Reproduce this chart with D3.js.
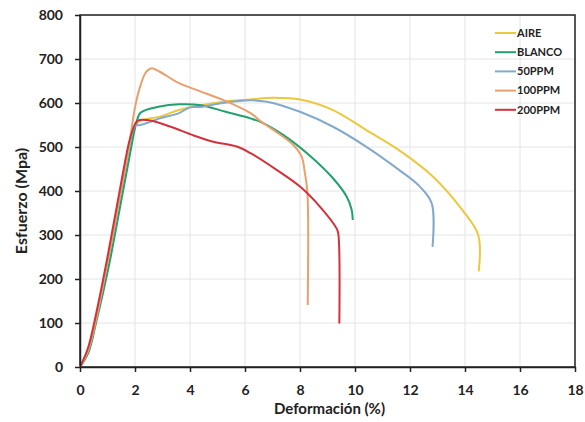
<!DOCTYPE html>
<html>
<head>
<meta charset="utf-8">
<script src="https://cdn.jsdelivr.net/npm/d3@7"></script>
<style>
  body { margin: 0; background: #fff; }
  svg { font-family: Lato, "Open Sans", sans-serif; }
</style>
</head>
<body>
<svg id="chart" width="585" height="422"></svg>
<script>
// curves: strain (%) and stress (MPa)
const seriesNames = ['AIRE', 'BLANCO', '50PPM', '100PPM', '200PPM'];

const aireX = [0, 0.3, 0.6, 1.0, 1.5, 1.8, 2.0, 2.2, 2.9, 3.6, 4.4, 5.2, 6.2, 7.0, 8.0, 9.2, 10.4, 11.6, 12.85, 13.9, 14.48, 14.5];
const aireY = [0, 35, 110, 235, 400, 500, 548, 560, 569, 584, 595, 603, 608, 612, 608, 584, 539, 493, 432, 357, 300, 217];

const blancoX = [0, 0.3, 0.6, 1.05, 1.55, 1.85, 2.05, 2.2, 2.9, 3.6, 4.4, 5.3, 6.2, 6.6, 7.4, 8.4, 9.2, 9.7, 9.88, 9.92];
const blancoY = [0, 32, 105, 230, 395, 495, 555, 578, 592, 597, 595, 580, 565, 556, 527, 478, 429, 387, 357, 334];

const ppm50X = [0, 0.3, 0.6, 1.0, 1.5, 1.8, 2.0, 2.2, 2.5, 2.9, 3.6, 4.0, 4.4, 5.2, 6.2, 6.8, 8.0, 9.2, 10.4, 11.6, 12.36, 12.79, 12.82];
const ppm50Y = [0, 38, 115, 240, 405, 505, 548, 550, 556, 565, 577, 590, 591, 600, 606, 603, 580, 546, 501, 448, 410, 372, 273];

const ppm100X = [0, 0.3, 0.6, 1.0, 1.5, 1.8, 2.0, 2.2, 2.4, 2.6, 2.9, 3.6, 4.4, 5.2, 6.2, 6.6, 7.0, 7.75, 8.06, 8.18, 8.27, 8.28];
const ppm100Y = [0, 38, 112, 238, 405, 510, 590, 640, 670, 679, 671, 645, 626, 607, 577, 557, 540, 505, 478, 440, 395, 141];

const ppm200X = [0, 0.3, 0.6, 1.0, 1.5, 1.8, 2.0, 2.1, 2.5, 3.3, 4.1, 4.85, 5.7, 6.2, 7.15, 8.0, 8.73, 9.33, 9.39, 9.43];
const ppm200Y = [0, 45, 125, 250, 420, 515, 552, 560, 561, 546, 527, 512, 501, 486, 448, 410, 364, 315, 304, 99];

const xTicks = [0, 2, 4, 6, 8, 10, 12, 14, 16, 18];
const yTicks = [0, 100, 200, 300, 400, 500, 600, 700, 800];

const colors = ['#ecc83c', '#22a070', '#84aacb', '#e9a06c', '#d2323c'];

const series = [
  { name: seriesNames[0], x: aireX, y: aireY },
  { name: seriesNames[1], x: blancoX, y: blancoY },
  { name: seriesNames[2], x: ppm50X, y: ppm50Y },
  { name: seriesNames[3], x: ppm100X, y: ppm100Y },
  { name: seriesNames[4], x: ppm200X, y: ppm200Y },
];

const svg = d3.select('#chart');
const margin = { top: 15, right: 10, bottom: 55, left: 80 };
const width = 585 - margin.left - margin.right;
const height = 422 - margin.top - margin.bottom;

const x = d3.scaleLinear().domain([0, 18]).range([0, width]);
const y = d3.scaleLinear().domain([0, 800]).range([height, 0]);

const g = svg.append('g')
  .attr('transform', `translate(${margin.left},${margin.top})`);

// grid
g.append('g')
  .selectAll('line')
  .data(xTicks.slice(1))
  .join('line')
  .attr('x1', d => x(d)).attr('x2', d => x(d))
  .attr('y1', 0).attr('y2', height)
  .attr('stroke', '#e4e4e4');

g.append('g')
  .selectAll('line')
  .data(yTicks.slice(1))
  .join('line')
  .attr('x1', 0).attr('x2', width)
  .attr('y1', d => y(d)).attr('y2', d => y(d))
  .attr('stroke', '#e4e4e4');

// frame
g.append('rect')
  .attr('width', width).attr('height', height)
  .attr('fill', 'none')
  .attr('stroke', '#222')
  .attr('stroke-width', 1.5);

// curves
const line = d3.line()
  .x(d => x(d[0]))
  .y(d => y(d[1]))
  .curve(d3.curveCatmullRom.alpha(0.5));

series.forEach((s, i) => {
  g.append('path')
    .datum(s.x.map((v, j) => [v, s.y[j]]))
    .attr('fill', 'none')
    .attr('stroke', colors[i])
    .attr('stroke-width', 2)
    .attr('d', line);
});

// axes
const xAxis = g.append('g')
  .attr('transform', `translate(0,${height})`)
  .call(d3.axisBottom(x).tickValues(xTicks).tickSize(5).tickPadding(13).tickSizeOuter(0));

const yAxis = g.append('g')
  .call(d3.axisLeft(y).tickValues(yTicks).tickSize(5).tickPadding(12).tickSizeOuter(0));

[xAxis, yAxis].forEach(a => {
  a.select('.domain').attr('stroke', '#222').attr('stroke-width', 1.5);
  a.selectAll('.tick line').attr('stroke', '#222').attr('stroke-width', 1.5);
  a.selectAll('.tick text')
    .attr('fill', '#222')
    .style('font-size', '14px')
    .style('font-weight', 'bold')
    .style('font-family', 'Lato, sans-serif');
});

// axis titles
svg.append('text')
  .attr('x', margin.left + width / 2 + 2)
  .attr('y', 414)
  .attr('text-anchor', 'middle')
  .attr('fill', '#222')
  .style('font-size', '15px')
  .style('font-weight', 'bold')
  .text('Deformación (%)');

svg.append('text')
  .attr('transform', 'translate(27,201) rotate(-90)')
  .attr('text-anchor', 'middle')
  .attr('fill', '#222')
  .style('font-size', '16px')
  .style('font-weight', 'bold')
  .text('Esfuerzo (Mpa)');

// legend
const legend = svg.append('g').attr('transform', 'translate(495,33)');
series.forEach((s, i) => {
  const row = legend.append('g').attr('transform', `translate(0,${i * 19.2})`);
  row.append('line')
    .attr('x1', 0).attr('x2', 21)
    .attr('stroke', colors[i]).attr('stroke-width', 2);
  row.append('text')
    .attr('x', 22).attr('dy', '0.35em')
    .attr('fill', '#222')
    .style('font-size', '11px')
    .style('font-weight', 'bold')
    .text(s.name);
});
</script>
</body>
</html>
